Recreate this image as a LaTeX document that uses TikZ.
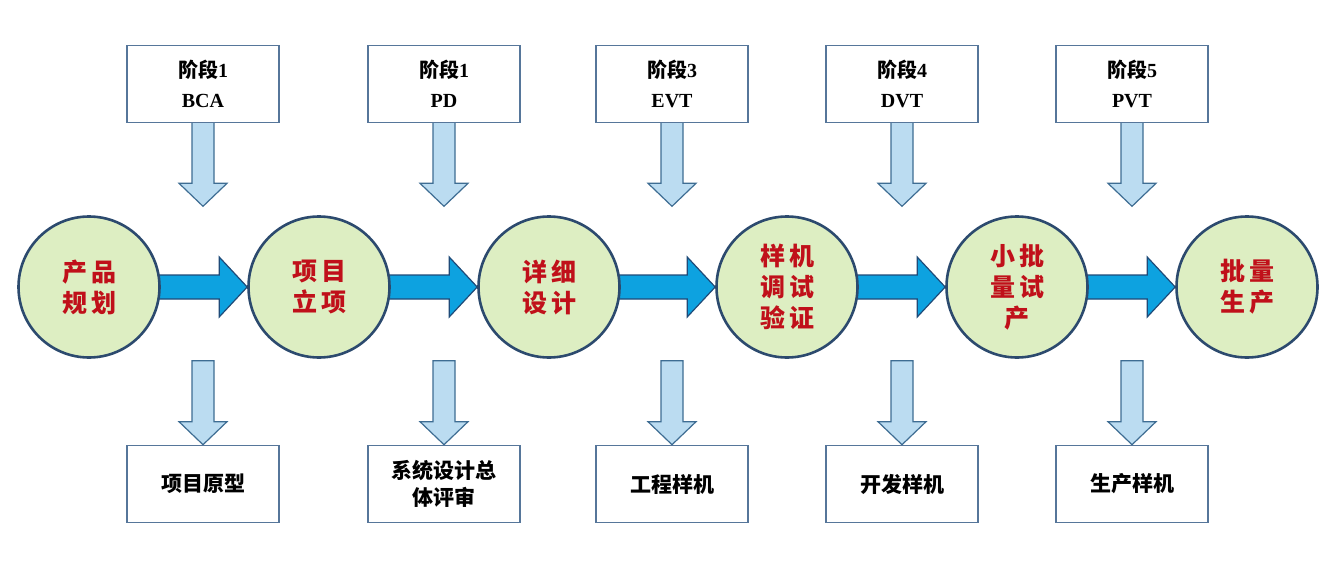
\documentclass[tikz,border=0pt]{standalone}
\usepackage{fontspec}
\setmainfont{Liberation Serif}
\newfontfamily\cjk{Noto Sans CJK SC}
\usetikzlibrary{calc}
\pgfdeclarelayer{bg}
\pgfsetlayers{bg,main}
\definecolor{circfill}{HTML}{DDEEC2}
\definecolor{circline}{HTML}{2C4A6E}
\definecolor{harrfill}{HTML}{0DA2E0}
\definecolor{harrline}{HTML}{1F4A78}
\definecolor{varrfill}{HTML}{BBDCF1}
\definecolor{varrline}{HTML}{3E6D93}
\definecolor{boxline}{HTML}{56769A}
\definecolor{stagered}{HTML}{C0101A}
\newcommand\gp{\hspace{4pt}}
\newcommand\hflow[2]{%
  \path[harrow] ($(#1.east)+(-8,12)$) -- ($(#2.west)+(-28,12)$) -- ($(#2.west)+(-28,30)$)
    -- (#2.west) -- ($(#2.west)+(-28,-30)$) -- ($(#2.west)+(-28,-12)$)
    -- ($(#1.east)+(-8,-12)$) -- cycle;}
\newcommand\vflow[2]{%
  \path[varrow] ($(#1)+(-11,0)$) -- ($(#2)+(-11,-23)$) -- ($(#2)+(-24,-23)$)
    -- (#2) -- ($(#2)+(24,-23)$) -- ($(#2)+(11,-23)$) -- ($(#1)+(11,0)$) -- cycle;}
\begin{document}
\begin{tikzpicture}[x=1pt,y=-1pt,
  stage/.style={circle, draw=circline, line width=2.6pt, fill=circfill, minimum size=141pt,
    inner sep=0pt, text=stagered, font=\cjk\bfseries\fontsize{25}{31}\selectfont, align=center},
  infobox/.style={draw=boxline, line width=1.6pt, fill=white, minimum width=152pt,
    minimum height=77pt, inner sep=0pt, align=center},
  toptext/.style={font=\bfseries\fontsize{20}{30}\selectfont},
  bottext/.style={font=\cjk\bfseries\fontsize{21}{27}\selectfont},
  harrow/.style={fill=harrfill, draw=harrline, line width=1.2pt, line join=miter},
  varrow/.style={fill=varrfill, draw=varrline, line width=1.2pt, line join=miter},
]
\useasboundingbox (0,0) rectangle (1331,565);

% stages
\node[stage] (c1) at (89,287)   {产\gp 品\\规\gp 划};
\node[stage] (c2) at (319,287)  {项\gp 目\\立\gp 项};
\node[stage] (c3) at (549,287)  {详\gp 细\\设\gp 计};
\node[stage] (c4) at (787,287)  {样\gp 机\\调\gp 试\\验\gp 证};
\node[stage] (c5) at (1017,287) {小\gp 批\\量\gp 试\\产};
\node[stage] (c6) at (1247,287) {批\gp 量\\生\gp 产};

% top boxes
\node[infobox, toptext] (t1) at (203,84)  {{\cjk 阶段}1\\BCA};
\node[infobox, toptext] (t2) at (444,84)  {{\cjk 阶段}1\\PD};
\node[infobox, toptext] (t3) at (672,84)  {{\cjk 阶段}3\\EVT};
\node[infobox, toptext] (t4) at (902,84)  {{\cjk 阶段}4\\DVT};
\node[infobox, toptext] (t5) at (1132,84) {{\cjk 阶段}5\\PVT};

% bottom boxes
\node[infobox, bottext] (b1) at (203,484)  {项目原型};
\node[infobox, bottext] (b2) at (444,484)  {系统设计总\\体评审};
\node[infobox, bottext] (b3) at (672,484)  {工程样机};
\node[infobox, bottext] (b4) at (902,484)  {开发样机};
\node[infobox, bottext] (b5) at (1132,484) {生产样机};

\foreach \i in {1,...,5} {
  \coordinate (ta\i) at ($(t\i.south)+(0,83)$);
  \coordinate (bs\i) at ($(b\i.north)+(0,-84)$);
}

\begin{pgfonlayer}{bg}
  \fill[white] (0,0) rectangle (1331,565);
  \hflow{c1}{c2}
  \hflow{c2}{c3}
  \hflow{c3}{c4}
  \hflow{c4}{c5}
  \hflow{c5}{c6}
  \foreach \i in {1,...,5} {
    \vflow{$(t\i.south)+(0,-3)$}{ta\i}
    \vflow{bs\i}{b\i.north}
  }
\end{pgfonlayer}
\end{tikzpicture}
\end{document}
